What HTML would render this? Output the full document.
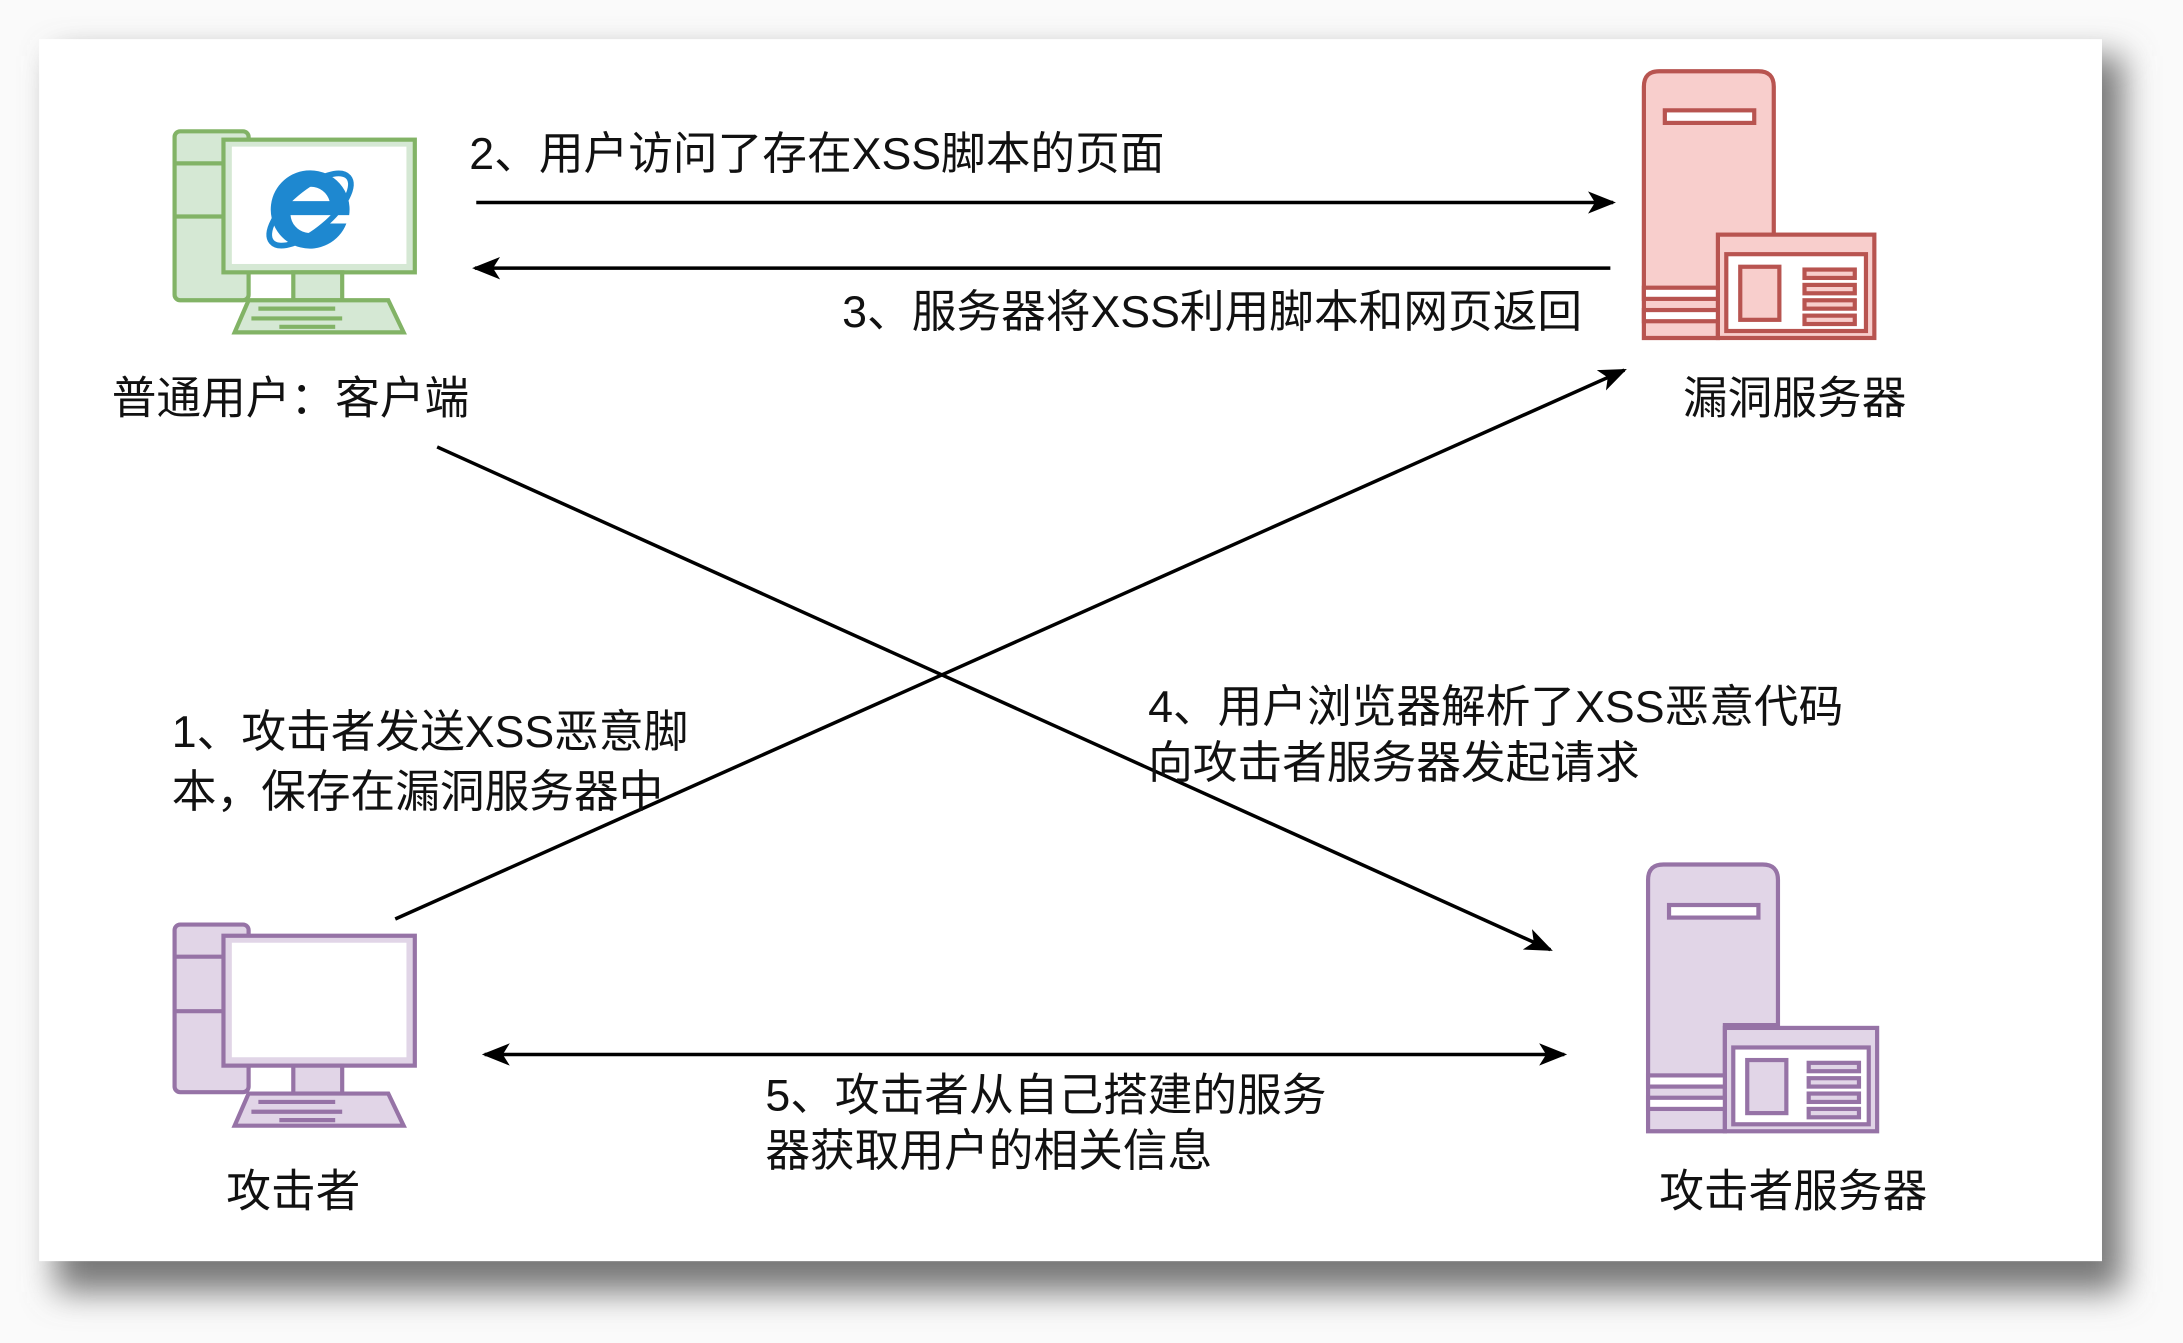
<!DOCTYPE html>
<html><head><meta charset="utf-8"><style>
html,body{margin:0;padding:0;background:#fff;}
svg{display:block;}
text{font-family:"Liberation Sans","Noto Sans CJK SC",sans-serif;font-size:32px;fill:#111;}
</style></head><body>
<svg width="2183" height="1343" viewBox="0 0 1563 961.6" preserveAspectRatio="none" xmlns="http://www.w3.org/2000/svg">
<defs>
<filter id="sh" x="-5%" y="-5%" width="115%" height="120%"><feGaussianBlur stdDeviation="12"/></filter>
<marker id="ah" viewBox="0 0 20 20" refX="18" refY="10" markerWidth="20" markerHeight="20" markerUnits="userSpaceOnUse" orient="auto-start-reverse"><path d="M0,2 L20,10 L0,18 L5,10 Z" fill="#000"/></marker>
</defs>
<rect x="0" y="0" width="1563" height="962" fill="#fafafa"/>
<rect x="40" y="40" width="1480" height="885" fill="#777" filter="url(#sh)"/>
<rect x="28" y="28" width="1477" height="875" fill="#fff"/>

<!-- green computer -->
<g stroke="#82b366" stroke-width="3" fill="#d5e8d4">
<rect x="125" y="94" width="53" height="121" rx="4"/>
<line x1="125" y1="117" x2="160" y2="117"/><line x1="125" y1="155" x2="160" y2="155"/>
<rect x="160" y="100" width="137" height="95"/>
<rect x="166" y="105" width="125" height="84" fill="#fff" stroke="none"/>
<rect x="210" y="195" width="35" height="20"/>
<path d="M178,215 L278,215 L289,238 L168,238 Z"/>
</g>
<g stroke="#82b366" stroke-width="3"><line x1="185" y1="221" x2="240" y2="221"/><line x1="180" y1="228" x2="245" y2="228"/><line x1="200" y1="234" x2="240" y2="234"/></g>
<!-- IE logo -->
<g>
<ellipse cx="222" cy="150" rx="36" ry="15" fill="none" stroke="#1e88d0" stroke-width="4" transform="rotate(-40 222 150)"/>
<path d="M222,122 a28,28 0 1 0 26,38 h-14 a14,14 0 0 1 -26,-6 h42 a28,28 0 0 0 -28,-32 Z M209,144 a14,14 0 0 1 27,0 Z" fill="#1e88d0" fill-rule="evenodd"/>
</g>
<text x="80" y="296">普通用户：客户端</text>

<!-- red server -->
<g stroke="#b85450" stroke-width="3" fill="#f8cecc">
<path d="M1177,62 q0,-11 11,-11 h71 q11,0 11,11 v164 h-40 v16 h-53 Z"/>
<rect x="1192" y="79" width="64" height="9" fill="#fff"/>
<rect x="1230" y="168" width="112" height="74"/>
<rect x="1236" y="182" width="100" height="55" fill="#fff"/>
<rect x="1246" y="191" width="28" height="38"/>
<rect x="1292" y="193" width="36" height="6"/><rect x="1292" y="204" width="36" height="6"/><rect x="1292" y="215" width="36" height="6"/><rect x="1292" y="226" width="36" height="6"/>
<rect x="1177" y="206" width="53" height="8" fill="#fff"/><rect x="1177" y="222" width="53" height="8" fill="#fff"/>
</g>
<text x="1205" y="296">漏洞服务器</text>

<!-- purple computer -->
<g stroke="#9673a6" stroke-width="3" fill="#e1d5e7">
<rect x="125" y="662" width="53" height="120" rx="4"/>
<line x1="125" y1="685" x2="160" y2="685"/><line x1="125" y1="724" x2="160" y2="724"/>
<rect x="160" y="670" width="137" height="93"/>
<rect x="166" y="675" width="125" height="82" fill="#fff" stroke="none"/>
<rect x="210" y="763" width="35" height="20"/>
<path d="M178,783 L278,783 L289,806 L168,806 Z"/>
</g>
<g stroke="#9673a6" stroke-width="3"><line x1="185" y1="789" x2="240" y2="789"/><line x1="180" y1="796" x2="245" y2="796"/><line x1="200" y1="802" x2="240" y2="802"/></g>
<text x="162" y="864">攻击者</text>

<!-- purple server -->
<g stroke="#9673a6" stroke-width="3" fill="#e1d5e7">
<path d="M1180,630 q0,-11 11,-11 h71 q11,0 11,11 v104 h-38 v76 h-55 Z"/>
<rect x="1195" y="648" width="64" height="9" fill="#fff"/>
<rect x="1235" y="736" width="109" height="74"/>
<rect x="1241" y="750" width="97" height="55" fill="#fff"/>
<rect x="1251" y="759" width="28" height="38"/>
<rect x="1295" y="761" width="36" height="6"/><rect x="1295" y="772" width="36" height="6"/><rect x="1295" y="783" width="36" height="6"/><rect x="1295" y="794" width="36" height="6"/>
<rect x="1180" y="770" width="55" height="8" fill="#fff"/><rect x="1180" y="786" width="55" height="8" fill="#fff"/>
</g>
<text x="1188" y="864">攻击者服务器</text>

<!-- connectors -->
<g stroke="#000" stroke-width="2.5" fill="none">
<line x1="341" y1="145" x2="1155" y2="145" marker-end="url(#ah)"/>
<line x1="1153" y1="192" x2="340" y2="192" marker-end="url(#ah)"/>
<line x1="313" y1="320" x2="1110" y2="680" marker-end="url(#ah)"/>
<line x1="283" y1="658" x2="1163" y2="265" marker-end="url(#ah)"/>
<line x1="347" y1="755" x2="1120" y2="755" marker-start="url(#ah)" marker-end="url(#ah)"/>
</g>

<text x="336" y="121">2、用户访问了存在XSS脚本的页面</text>
<text x="603" y="234">3、服务器将XSS利用脚本和网页返回</text>
<text x="123" y="535">1、攻击者发送XSS恶意脚</text>
<text x="123" y="578">本，保存在漏洞服务器中</text>
<text x="822" y="517">4、用户浏览器解析了XSS恶意代码</text>
<text x="822" y="557">向攻击者服务器发起请求</text>
<text x="548" y="795">5、攻击者从自己搭建的服务</text>
<text x="548" y="835">器获取用户的相关信息</text>
</svg>
</body></html>
